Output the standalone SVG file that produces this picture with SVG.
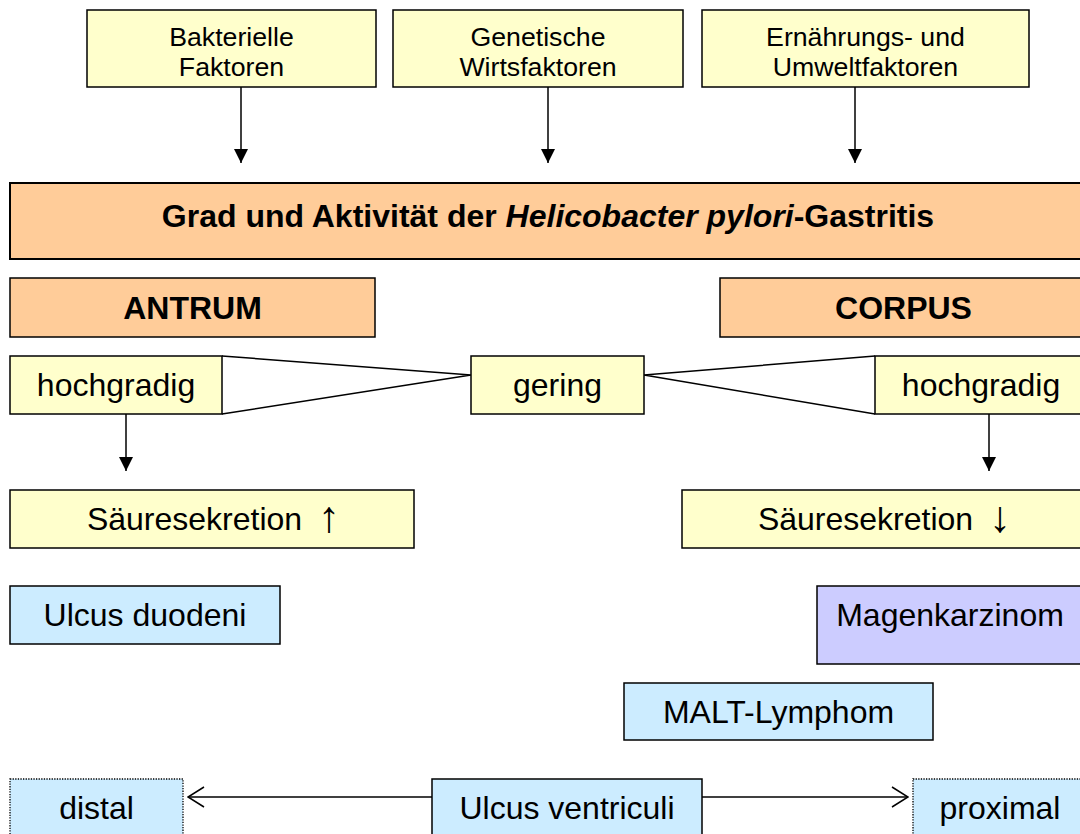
<svg xmlns="http://www.w3.org/2000/svg" width="1080" height="834" viewBox="0 0 1080 834">
<defs>
<style>
text{font-family:"Liberation Sans",Arial,sans-serif;fill:#000;text-anchor:middle}
.s{font-size:26.7px}
.m{font-size:32px}
.b{font-size:32px;font-weight:bold}
.ar{font-size:44px}
.y{fill:#FFFFCC;stroke:#000;stroke-width:1.5}
.o{fill:#FFCC99;stroke:#000;stroke-width:1.5}
.l{fill:#CCECFF;stroke:#000;stroke-width:1.5}
.p{fill:#CCCCFF;stroke:#000;stroke-width:1.5}
.d{fill:#CCECFF;stroke:#000;stroke-width:1.3;stroke-dasharray:1.3 1.3}
.c{fill:none;stroke:#000;stroke-width:1.5}
</style>
<marker id="ah" viewBox="0 0 14 14" refX="14" refY="7" markerWidth="14" markerHeight="14" markerUnits="userSpaceOnUse" orient="auto">
<path d="M0,0 L14,7 L0,14 Z" fill="#000"/>
</marker>
<marker id="oh" viewBox="0 0 18 22" refX="17" refY="11" markerWidth="18" markerHeight="22" markerUnits="userSpaceOnUse" orient="auto">
<path d="M1,1 L17,11 L1,21" fill="none" stroke="#000" stroke-width="1.5"/>
</marker>
</defs>
<rect width="1080" height="834" fill="#fff"/>
<g id="connectors">
<line class="c" x1="241" y1="87" x2="241" y2="163" marker-end="url(#ah)"/>
<line class="c" x1="548" y1="87" x2="548" y2="163" marker-end="url(#ah)"/>
<line class="c" x1="855" y1="87" x2="855" y2="163" marker-end="url(#ah)"/>
<polyline class="c" points="222,356 471,375 222,414"/>
<polyline class="c" points="875,356 644,375 875,414"/>
<line class="c" x1="126" y1="414" x2="126" y2="471" marker-end="url(#ah)"/>
<line class="c" x1="989" y1="414" x2="989" y2="471" marker-end="url(#ah)"/>
<line class="c" x1="432" y1="797" x2="188" y2="797" marker-end="url(#oh)"/>
<line class="c" x1="702" y1="797" x2="908" y2="797" marker-end="url(#oh)"/>
</g>
<g id="bakterielle">
<rect class="y" x="87" y="10" width="289" height="77"/>
<text class="s" x="231.5" y="46">Bakterielle</text>
<text class="s" x="231.5" y="76">Faktoren</text>
</g>
<g id="genetische">
<rect class="y" x="393" y="10" width="290" height="77"/>
<text class="s" x="538" y="46">Genetische</text>
<text class="s" x="538" y="76">Wirtsfaktoren</text>
</g>
<g id="ernaehrung">
<rect class="y" x="702" y="10" width="327" height="77"/>
<text class="s" x="865.5" y="46">Ernährungs- und</text>
<text class="s" x="865.5" y="76">Umweltfaktoren</text>
</g>
<g id="gastritis">
<rect x="10" y="183" width="1077" height="76" fill="#FFCC99" stroke="#000" stroke-width="2"/>
<text class="b" x="548" y="227">Grad und Aktivität der <tspan font-style="italic">Helicobacter pylori</tspan>-Gastritis</text>
</g>
<g id="antrum">
<rect class="o" x="10" y="278" width="365" height="59"/>
<text class="b" x="192.5" y="319">ANTRUM</text>
</g>
<g id="corpus">
<rect class="o" x="720" y="278" width="367" height="59"/>
<text class="b" x="903.5" y="319">CORPUS</text>
</g>
<g id="hochgradig-antrum">
<rect class="y" x="10" y="356" width="212" height="58"/>
<text class="m" x="116" y="396">hochgradig</text>
</g>
<g id="gering">
<rect class="y" x="471" y="356" width="173" height="58"/>
<text class="m" x="557.5" y="396">gering</text>
</g>
<g id="hochgradig-corpus">
<rect class="y" x="875" y="356" width="212" height="58"/>
<text class="m" x="981" y="396">hochgradig</text>
</g>
<g id="saeure-hoch">
<rect class="y" x="10" y="490" width="404" height="58"/>
<text class="m" x="194.5" y="530">Säuresekretion</text>
<text class="ar" x="329" y="532">↑</text>
</g>
<g id="saeure-tief">
<rect class="y" x="682" y="490" width="404" height="58"/>
<text class="m" x="865.5" y="530">Säuresekretion</text>
<text class="ar" x="1000" y="532">↓</text>
</g>
<g id="ulcus-duodeni">
<rect class="l" x="10" y="586" width="270" height="58"/>
<text class="m" x="145" y="626">Ulcus duodeni</text>
</g>
<g id="magenkarzinom">
<rect class="p" x="817" y="586" width="270" height="78"/>
<text class="m" x="950" y="626">Magenkarzinom</text>
</g>
<g id="malt">
<rect class="l" x="624" y="683" width="309" height="57"/>
<text class="m" x="778.5" y="723">MALT-Lymphom</text>
</g>
<g id="distal">
<rect class="d" x="10" y="779" width="173" height="60"/>
<text class="m" x="96.5" y="819">distal</text>
</g>
<g id="ulcus-ventriculi">
<rect class="l" x="432" y="779" width="270" height="60"/>
<text class="m" x="567" y="819">Ulcus ventriculi</text>
</g>
<g id="proximal">
<rect class="d" x="913" y="779" width="174" height="60"/>
<text class="m" x="1000" y="819">proximal</text>
</g>
</svg>
